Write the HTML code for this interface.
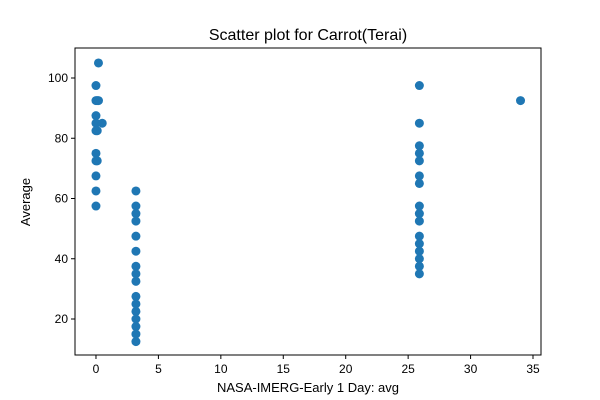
<!DOCTYPE html>
<html><head><meta charset="utf-8"><style>
body{margin:0;background:#fff;}
svg{display:block;font-family:"Liberation Sans","DejaVu Sans",sans-serif;}
</style></head><body>
<svg id="chart" width="600" height="400">
<rect width="600" height="400" fill="#fff"/>
<text x="308" y="40" text-anchor="middle" font-size="16">Scatter plot for Carrot(Terai)</text>
<g id="points"></g>
<g id="axes"></g>
<text x="308" y="392" text-anchor="middle" font-size="13">NASA-IMERG-Early 1 Day: avg</text>
<text transform="translate(30,202) rotate(-90)" text-anchor="middle" font-size="13">Average</text>
</svg>
<script>
const xValues=[0.2,0,0,0.1,0.2,0,0,0.5,0,0.1,0,0,0.1,0,0,0,
3.2,3.2,3.2,3.2,3.2,3.2,3.2,3.2,3.2,3.2,3.2,3.2,3.2,3.2,3.2,3.2,
25.9,25.9,25.9,25.9,25.9,25.9,25.9,25.9,25.9,25.9,25.9,25.9,25.9,25.9,25.9,25.9,
34];
const yValues=[105,97.5,92.5,92.5,92.5,87.5,85,85,82.5,82.5,75,72.5,72.5,67.5,62.5,57.5,
62.5,57.5,55,52.5,47.5,42.5,37.5,35,32.5,27.5,25,22.5,20,17.5,15,12.5,
97.5,85,77.5,75,72.5,67.5,65,57.5,55,52.5,47.5,45,42.5,40,37.5,35,
92.5];
const xTicks=[0,5,10,15,20,25,30,35];
const yTicks=[20,40,60,80,100];
const L=75,R=541,T=48,B=355;
const xMin=-1.68,xMax=35.64,yMin=8.05,yMax=109.96;
const sx=v=>L+(v-xMin)/(xMax-xMin)*(R-L);
const sy=v=>B-(v-yMin)/(yMax-yMin)*(B-T);
const NS="http://www.w3.org/2000/svg";
const pg=document.getElementById('points');
xValues.forEach((x,i)=>{
 const c=document.createElementNS(NS,'circle');
 c.setAttribute('cx',sx(x));c.setAttribute('cy',sy(yValues[i]));c.setAttribute('r',4.5);c.setAttribute('fill','#1f77b4');
 
 
 pg.appendChild(c);
});
const ag=document.getElementById('axes');
const fr=document.createElementNS(NS,'rect');
fr.setAttribute('x',L);fr.setAttribute('y',T);fr.setAttribute('width',R-L);fr.setAttribute('height',B-T);
fr.setAttribute('fill','none');fr.setAttribute('stroke','#000');fr.setAttribute('stroke-width','1');


ag.appendChild(fr);
xTicks.forEach(t=>{
 const x=sx(t);
 const l=document.createElementNS(NS,'line');
 l.setAttribute('x1',x);l.setAttribute('x2',x);l.setAttribute('y1',B);l.setAttribute('y2',B+4);l.setAttribute('stroke','#000');
 
 
 ag.appendChild(l);
 const tx=document.createElementNS(NS,'text');
 tx.setAttribute('x',x);tx.setAttribute('y',B+18);tx.setAttribute('text-anchor','middle');tx.setAttribute('font-size','12');
 tx.textContent=t;
 
 
 ag.appendChild(tx);
});
yTicks.forEach(t=>{
 const y=sy(t);
 const l=document.createElementNS(NS,'line');
 l.setAttribute('x1',L-4);l.setAttribute('x2',L);l.setAttribute('y1',y);l.setAttribute('y2',y);l.setAttribute('stroke','#000');
 
 
 ag.appendChild(l);
 const tx=document.createElementNS(NS,'text');
 tx.setAttribute('x',L-7);tx.setAttribute('y',y+4);tx.setAttribute('text-anchor','end');tx.setAttribute('font-size','12');
 tx.textContent=t;
 
 
 ag.appendChild(tx);
});
</script>
</body></html>
